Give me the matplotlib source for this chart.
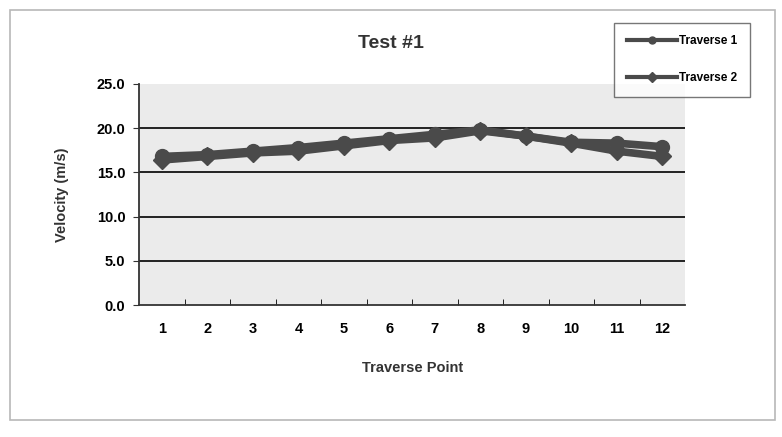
import matplotlib
matplotlib.use("Agg")
import matplotlib.pyplot as plt
import matplotlib.patches as patches

plt.rcParams["font.family"] = ["Liberation Sans", "DejaVu Sans"]
plt.rcParams["font.weight"] = "bold"

points = [1, 2, 3, 4, 5, 6, 7, 8, 9, 10, 11, 12]
traverse_1 = [16.8, 17.0, 17.4, 17.8, 18.3, 18.8, 19.3, 19.8, 19.1, 18.4, 18.3, 17.9]
traverse_2 = [16.4, 16.8, 17.2, 17.4, 18.0, 18.6, 18.9, 19.7, 19.1, 18.3, 17.4, 16.8]
y_ticks = [0, 5, 10, 15, 20, 25]

line_col = "#4a4a4a"

fig = plt.figure(figsize=(7.82, 4.37), dpi=100)
ax = fig.add_axes([0.178, 0.302, 0.698, 0.506])

# outer chart border (scanned page look)
fig.patches.append(patches.Rectangle((0.013, 0.04), 0.978, 0.937, transform=fig.transFigure,
                                     fill=False, edgecolor="#b8b8b8", linewidth=1.2))

ax.set_facecolor("#ebebeb")
for yv in y_ticks[1:-1]:
    ax.axhline(yv, color="#222222", linewidth=1.4, zorder=1)

ax.plot(points, traverse_1, color=line_col, linewidth=5.5, marker="o", markersize=10,
        label="Traverse 1", zorder=3)
ax.plot(points, traverse_2, color=line_col, linewidth=5.5, marker="D", markersize=9,
        label="Traverse 2", zorder=3)

ax.set_xlim(0.5, 12.5)
ax.set_ylim(0, 25)
ax.set_xticks(points)
ax.set_xticks([p + 0.5 for p in points[:-1]], minor=True)
ax.tick_params(axis="x", which="major", length=0, pad=12, labelsize=10.5)
ax.tick_params(axis="x", which="minor", length=4, direction="in")
ax.set_yticks(y_ticks)
ax.set_yticklabels([f"{v:.1f}" for v in y_ticks])
ax.tick_params(axis="y", length=4, labelsize=10.5, pad=6, color="#333333")

for s in ["top", "right"]:
    ax.spines[s].set_visible(False)
for s in ["left", "bottom"]:
    ax.spines[s].set_color("#333333")
    ax.spines[s].set_linewidth(1.3)

ax.set_xlabel("Traverse Point", fontsize=10.5, fontweight="bold", labelpad=18, color="#333333")
ax.set_ylabel("Velocity (m/s)", fontsize=10.5, fontweight="bold", labelpad=20, color="#333333")
fig.text(0.5, 0.9, "Test #1", ha="center", va="center", fontsize=14, fontweight="bold",
         color="#333333")

leg = fig.legend(loc="upper left", bbox_to_anchor=(0.778, 0.962), fontsize=8.5,
                 frameon=True, fancybox=False, edgecolor="#555555", handlelength=4.2,
                 labelspacing=2.1, borderpad=1.1, handletextpad=0.2)
for h in leg.legend_handles:
    h.set_linewidth(3)
    h.set_markersize(5)

plt.savefig("out.png", dpi=100)
